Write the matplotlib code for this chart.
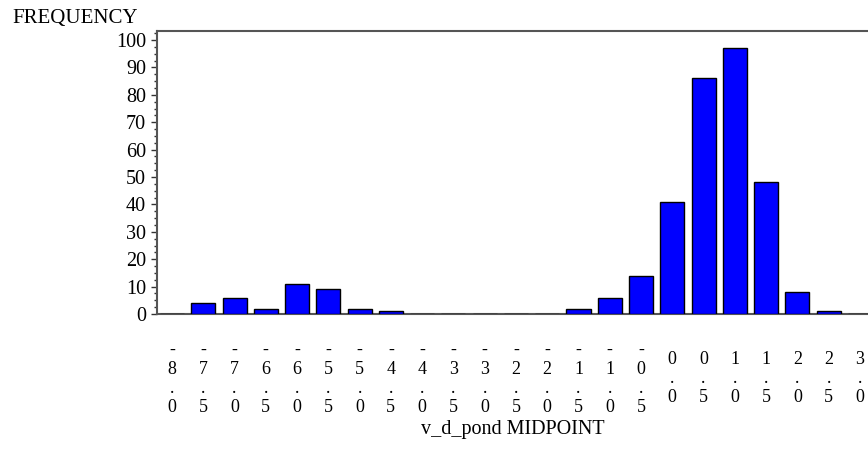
import numpy as np
import matplotlib
matplotlib.use('Agg')
import matplotlib.pyplot as plt
from matplotlib.ticker import MultipleLocator

# midpoints of v_d_pond and their frequencies
midpoints = [-8.0, -7.5, -7.0, -6.5, -6.0, -5.5, -5.0, -4.5, -4.0, -3.5, -3.0, -2.5,
             -2.0, -1.5, -1.0, -0.5, 0.0, 0.5, 1.0, 1.5, 2.0, 2.5, 3.0]
frequency = [0, 4, 6, 2, 11, 9, 2, 1, 0, 0, 0, 0,
             0, 2, 6, 14, 41, 86, 97, 48, 8, 1, 0]
y_ticks = [0, 10, 20, 30, 40, 50, 60, 70, 80, 90, 100]

plt.rcParams['font.family'] = ['Liberation Serif', 'DejaVu Serif']

fig = plt.figure(figsize=(8.68, 4.63), dpi=100)
ax = fig.add_axes([157 / 868, 1 - 314 / 463, 1 - 157 / 868, (314 - 31) / 463])

pos = np.arange(len(midpoints))
ax.bar(pos, frequency, width=0.77, color='#0000ff', edgecolor='black', linewidth=1.0, zorder=3)

ax.set_xlim(-0.48, 22.26)
ax.set_ylim(0, 103.3)

# SAS style stacked characters for the midpoint labels
labels = ['\n'.join('%.1f' % m) for m in midpoints]
ax.set_xticks(pos)
ax.set_xticklabels(labels, fontsize=13, linespacing=1.15)
for t in ax.get_xticklabels():
    t.set_verticalalignment('center')
ax.tick_params(axis='x', length=0, pad=46.5)

ax.set_yticks(y_ticks)
ax.yaxis.set_minor_locator(MultipleLocator(2.5))
ax.tick_params(axis='y', which='major', length=4, width=1, pad=4, labelsize=14.5, color='#333333')
ax.tick_params(axis='y', which='minor', length=2.2, width=1, color='#333333')

for side in ['left', 'top', 'bottom']:
    ax.spines[side].set_color('#555555')
    ax.spines[side].set_linewidth(1.5)
ax.spines['right'].set_visible(False)

ax.set_xlabel('v_d_pond MIDPOINT', fontsize=14.5, labelpad=3)
fig.text(12 / 868, 1 - 18 / 463, 'FREQUENCY', fontsize=15, va='center', ha='left')

fig.savefig('out.png', dpi=100)
